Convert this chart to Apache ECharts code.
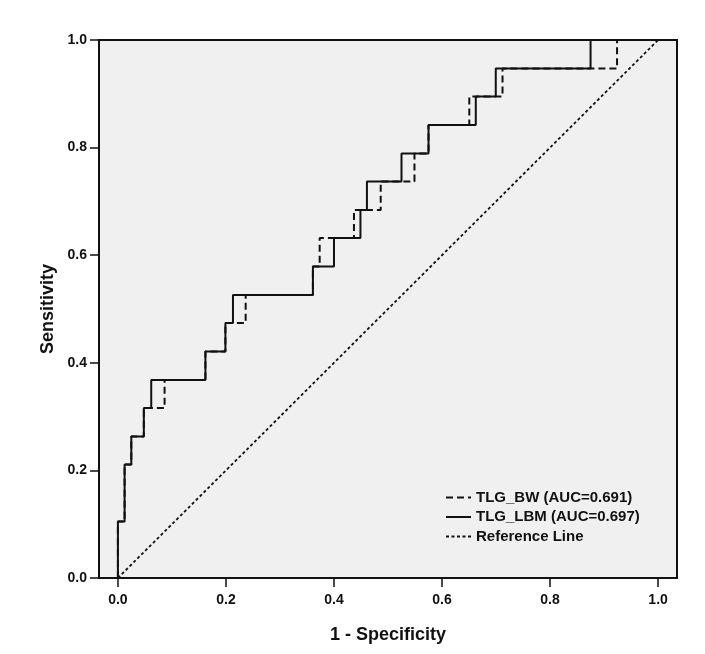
<!DOCTYPE html>
<html>
<head>
<meta charset="utf-8">
<script src="https://cdn.jsdelivr.net/npm/echarts@6/dist/echarts.min.js"></script>
<style>html,body{margin:0;padding:0;background:#fff;}#c{width:705px;height:654px;}</style>
</head>
<body>
<div id="c"></div>
<script>
// ROC step vertices (each point: after moving right to x, the curve climbs to y)
var bwFpr  = [0, 0, 0.0124, 0.0248, 0.048, 0.0864, 0.162, 0.199, 0.2365, 0.361, 0.3735, 0.437, 0.4865, 0.549, 0.575, 0.6505, 0.712, 0.924, 1.0];
var bwTpr  = [0, 0.105, 0.211, 0.263, 0.316, 0.368, 0.421, 0.474, 0.526, 0.579, 0.632, 0.684, 0.737, 0.789, 0.842, 0.895, 0.947, 1.0, 1.0];
var lbmFpr = [0, 0, 0.0124, 0.0248, 0.048, 0.0617, 0.162, 0.199, 0.213, 0.361, 0.400, 0.449, 0.461, 0.525, 0.575, 0.6625, 0.6995, 0.875, 1.0];
var lbmTpr = [0, 0.105, 0.211, 0.263, 0.316, 0.368, 0.421, 0.474, 0.526, 0.579, 0.632, 0.684, 0.737, 0.789, 0.842, 0.895, 0.947, 1.0, 1.0];
var refX = [0, 1];
var refY = [0, 1];
var tickVals = [0, 0.2, 0.4, 0.6, 0.8, 1.0];
var seriesNames = ['TLG_BW (AUC=0.691)', 'TLG_LBM (AUC=0.697)', 'Reference Line'];

function pairs(xs, ys) { return xs.map(function (x, i) { return [x, ys[i]]; }); }

var FONT = 'Arial, "Liberation Sans", sans-serif';
var chart = echarts.init(document.getElementById('c'), null, {renderer: 'canvas'});
chart.setOption({
  animation: false,
  backgroundColor: '#ffffff',
  grid: {
    left: 99, right: 28, top: 40, bottom: 76,
    show: true, backgroundColor: '#f0f0f0', borderColor: '#111', borderWidth: 2
  },
  legend: {
    orient: 'vertical', left: 445, top: 490, padding: 0,
    itemWidth: 25, itemHeight: 12, itemGap: 4.5,
    itemStyle: {opacity: 0},
    data: seriesNames,
    textStyle: {fontFamily: FONT, fontWeight: 'bold', fontSize: 15, color: '#111'}
  },
  xAxis: {
    type: 'value', min: -0.035, max: 1.035,
    name: '1 - Specificity', nameLocation: 'middle', nameGap: 48,
    nameTextStyle: {fontFamily: FONT, fontWeight: 'bold', fontSize: 18, color: '#111'},
    axisLine: {show: false, onZero: false},
    splitLine: {show: false},
    axisTick: {show: true, length: 9, customValues: tickVals, lineStyle: {color: '#111', width: 1.5}},
    axisLabel: {customValues: tickVals, margin: 15, formatter: function (v) { return v.toFixed(1); },
      fontFamily: FONT, fontWeight: 'bold', fontSize: 14, color: '#111'}
  },
  yAxis: {
    type: 'value', min: 0, max: 1, interval: 0.2,
    name: 'Sensitivity', nameLocation: 'middle', nameGap: 40,
    nameTextStyle: {fontFamily: FONT, fontWeight: 'bold', fontSize: 18, color: '#111'},
    axisLine: {show: false, onZero: false},
    splitLine: {show: false},
    axisTick: {show: true, length: 9, lineStyle: {color: '#111', width: 1.5}},
    axisLabel: {margin: 12, formatter: function (v) { return v.toFixed(1); },
      fontFamily: FONT, fontWeight: 'bold', fontSize: 14, color: '#111'}
  },
  series: [
    {
      name: seriesNames[0], type: 'line', step: 'end', symbol: 'none',
      data: pairs(bwFpr, bwTpr),
      lineStyle: {color: '#111', width: 2, type: [7, 4]},
      itemStyle: {color: '#111'}, z: 3
    },
    {
      name: seriesNames[1], type: 'line', step: 'end', symbol: 'none',
      data: pairs(lbmFpr, lbmTpr),
      lineStyle: {color: '#111', width: 2, type: 'solid'},
      itemStyle: {color: '#111'}, z: 4
    },
    {
      name: seriesNames[2], type: 'line', symbol: 'none',
      data: pairs(refX, refY),
      lineStyle: {color: '#111', width: 1.8, type: [3, 2.5]},
      itemStyle: {color: '#111'}, z: 2
    }
  ]
});
</script>
</body>
</html>
